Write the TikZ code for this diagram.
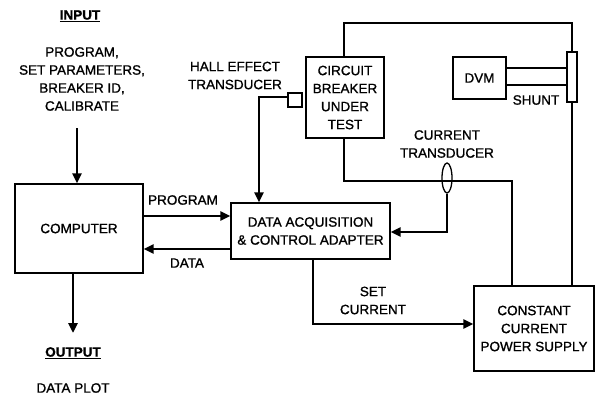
\documentclass[tikz,border=0pt]{standalone}
\usepackage{fontspec}
\setmainfont{Liberation Sans}[FakeBold=1.2]
\usetikzlibrary{arrows.meta,shapes.geometric}
\begin{document}
\begin{tikzpicture}[x=1pt,y=-1pt,
  box/.style={draw,line width=1.4pt,inner sep=0pt,align=center},
  wire/.style={line width=2.5pt},
  arr/.style={wire,-{Triangle[length=10pt,width=9pt]}},
  lbl/.style={align=center,inner sep=0pt,font=\fontsize{13.5}{18}\selectfont}]
\useasboundingbox (0,0) rectangle (596,400);
\tikzset{every node/.append style={font=\fontsize{13.5}{18}\selectfont}}
% titles
\node[lbl] (inT) at (80,16) {\textbf{\underline{INPUT}}};
\node[lbl] (in) at (82,79) {PROGRAM,\\SET PARAMETERS,\\BREAKER ID,\\CALIBRATE};
\node[lbl] (outT) at (73,353) {\textbf{\underline{OUTPUT}}};
\node[lbl] (plot) at (73,388) {DATA PLOT};
% boxes
\node[box,minimum width=128pt,minimum height=89pt] (comp) at (79,228.5) {COMPUTER};
\node[box,minimum width=159pt,minimum height=56pt] (daq) at (310.5,231) {DATA ACQUISITION\\\& CONTROL ADAPTER};
\node[box,minimum width=78pt,minimum height=81pt] (cb) at (345,97.5) {CIRCUIT\\BREAKER\\UNDER\\TEST};
\node[box,minimum width=53pt,minimum height=42pt] (dvm) at (479.5,78) {DVM};
\node[box,minimum width=10pt,minimum height=50pt] (sh) at (572,77) {};
\node[box,minimum width=14pt,minimum height=14pt] (hall) at (295,100) {};
\node[box,minimum width=120pt,minimum height=85pt] (ps) at (534,328.5) {CONSTANT\\CURRENT\\POWER SUPPLY};
\node[draw,ellipse,line width=1.3pt,inner sep=0pt,minimum width=10pt,minimum height=30pt] (ct) at (447,178) {};
% labels
\node[lbl] (hallL) at (235,75.5) {HALL EFFECT\\TRANSDUCER};
\node[lbl] (ctL) at (447,144) {CURRENT\\TRANSDUCER};
\node[lbl] (shL) at (536,100) {SHUNT};
\node[lbl] (progL) at (183,200) {PROGRAM};
\node[lbl] (dataL) at (187,263) {DATA};
\node[lbl] (setL) at (373,300.5) {SET\\CURRENT};
% coordinates
\coordinate (inA) at (77,128);
\coordinate (pY) at (0,216);
\coordinate (dY) at (0,249);
\coordinate (topL) at (344,23);
\coordinate (topR) at (572,23);
\coordinate (lowL) at (344,181);
\coordinate (lowR) at (512,181);
\coordinate (hallC) at (259,97);
\coordinate (ctC) at (447,232);
\coordinate (setA) at (313,324);
\coordinate (d1) at (0,68);
\coordinate (d2) at (0,85);
% connectors
\draw[arr] (inA) -- (comp.north -| inA);
\draw[arr] (comp.south -| 73,0) -- (73,333);
\draw[arr] (comp.east |- pY) -- (daq.west |- pY);
\draw[arr] (daq.west |- dY) -- (comp.east |- dY);
\draw[arr] (hall.west |- hallC) -- (hallC) -- (daq.north -| hallC);
\draw[wire] (cb.north -| topL) -- (topL) -- (topR) -- (sh.north);
\draw[wire] (sh.south) -- (ps.north -| sh.south);
\draw[wire] (dvm.east |- d1) -- (sh.west |- d1);
\draw[wire] (dvm.east |- d2) -- (sh.west |- d2);
\draw[wire] (cb.south -| lowL) -- (lowL) -- (lowR) -- (ps.north -| lowR);
\draw[arr] (ct.south) -- (ctC) -- (daq.east |- ctC);
\draw[arr] (daq.south -| setA) -- (setA) -- (ps.west |- setA);
\end{tikzpicture}
\end{document}
